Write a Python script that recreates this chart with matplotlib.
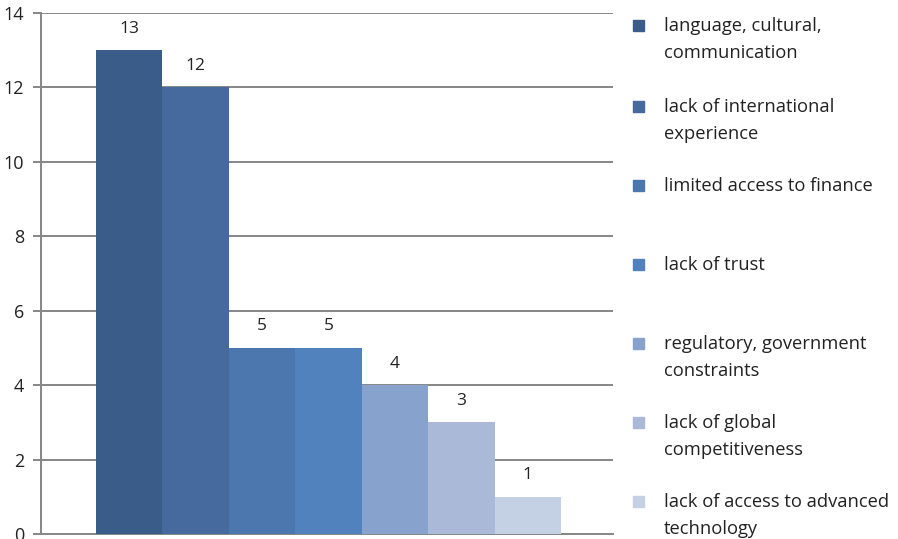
import matplotlib
matplotlib.use("Agg")
import matplotlib.pyplot as plt
from matplotlib.patches import Rectangle

categories = ["language, cultural,\ncommunication",
              "lack of international\nexperience",
              "limited access to finance",
              "lack of trust",
              "regulatory, government\nconstraints",
              "lack of global\ncompetitiveness",
              "lack of access to advanced\ntechnology"]
values = [13, 12, 5, 5, 4, 3, 1]
colors = ["#3A5C89", "#466A9D", "#4B77AE", "#5282BE", "#87A3CD", "#AAB9D7", "#C4D0E3"]
yticks = [0, 2, 4, 6, 8, 10, 12, 14]

plt.rcParams['font.family'] = ['Open Sans', 'DejaVu Sans']
W, H = 898, 539
fig = plt.figure(figsize=(W/100, H/100), dpi=100)
ax = fig.add_axes([41/W, 1-534/H, (613-41)/W, (534-13)/H])

x = list(range(len(values)))
ax.bar(x, values, width=1.0, color=colors, zorder=3, linewidth=0)
for xi, v in zip(x, values):
    ax.text(xi, v + 0.58, str(v), ha='center', va='center', fontsize=12.5, color='#222222')

ax.set_xlim(-1.327, 7.282)
ax.set_ylim(0, 14)
ax.set_yticks(yticks)
ax.set_yticklabels([str(t) for t in yticks], fontsize=13, color='#222222')
ax.set_xticks([])
ax.grid(axis='y', color='#868686', linewidth=1.4, zorder=1)
for s in ['top', 'right']:
    ax.spines[s].set_visible(False)
for s in ['left', 'bottom']:
    ax.spines[s].set_color('#868686')
    ax.spines[s].set_linewidth(1.4)
ax.tick_params(axis='y', length=6, width=1.4, color='#868686', pad=6)

# legend
ys = [26, 107, 186, 265, 344, 423, 502]
for lab, c, yy in zip(categories, colors, ys):
    fig.patches.append(Rectangle((633/W, 1-(yy+5)/H), 11/W, 11/H,
                                 transform=fig.transFigure, color=c))
    fig.text(664/W, 1-(yy-9)/H, lab, ha='left', va='top', fontsize=13.2,
             color='#222222', linespacing=1.62)

fig.savefig("out.png", dpi=100)
